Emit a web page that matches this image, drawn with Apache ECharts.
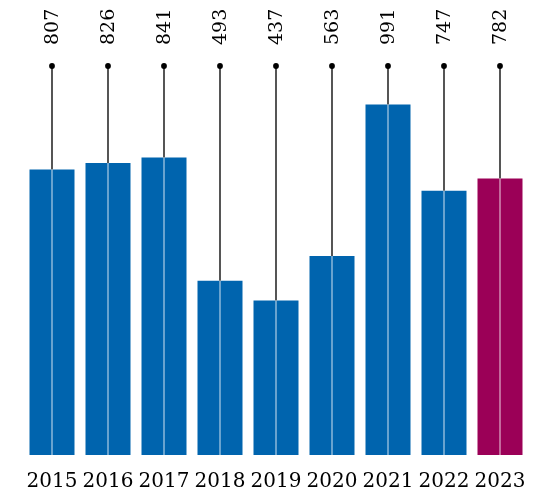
<!DOCTYPE html>
<html>
<head>
<meta charset="utf-8">
<style>
  html, body { margin: 0; padding: 0; background: #ffffff; }
  #chart { width: 533px; height: 495px; }
</style>
<script src="https://cdn.jsdelivr.net/npm/echarts@6/dist/echarts.min.js"></script>
</head>
<body>
<div id="chart"></div>
<script>
// Yearly totals
const years = ['2015', '2016', '2017', '2018', '2019', '2020', '2021', '2022', '2023'];
const values = [807, 826, 841, 493, 437, 563, 991, 747, 782];

const BLUE = '#0064ae';
const HIGHLIGHT = '#9b0057';
const Y_MAX = 1100;
const FONT = '"DejaVu Serif", serif';

const chart = echarts.init(document.getElementById('chart'), null, { renderer: 'canvas' });

chart.setOption({
  animation: false,
  grid: { left: 24, right: 5, top: 66, bottom: 40 },
  xAxis: {
    type: 'category',
    data: years,
    axisLine: { show: false },
    axisTick: { show: false },
    axisLabel: {
      interval: 0,
      color: '#000',
      fontFamily: FONT,
      fontSize: 20,
      margin: 17
    }
  },
  yAxis: {
    type: 'value',
    min: 0,
    max: Y_MAX,
    show: false,
    splitLine: { show: false }
  },
  series: [
    {
      type: 'bar',
      barWidth: 45,
      data: values.map((v, i) => ({
        value: v,
        itemStyle: { color: i === values.length - 1 ? HIGHLIGHT : BLUE }
      })),
      z: 2
    },
    {
      // stem from the label dot down through each bar, plus the rotated value label
      type: 'custom',
      z: 3,
      data: values.map((v, i) => [i, v]),
      renderItem: function (params, api) {
        const i = api.value(0);
        const v = api.value(1);
        const base = api.coord([i, 0]);
        const top = api.coord([i, v]);
        const dot = api.coord([i, Y_MAX]);
        const x = base[0];
        return {
          type: 'group',
          children: [
            {
              type: 'line',
              shape: { x1: x, y1: dot[1], x2: x, y2: top[1] },
              style: { stroke: '#4d4d4d', lineWidth: 1.9 }
            },
            {
              type: 'line',
              shape: { x1: x, y1: top[1], x2: x, y2: base[1] },
              style: { stroke: 'rgba(255,255,255,0.55)', lineWidth: 1.5 }
            },
            {
              type: 'circle',
              shape: { cx: x, cy: dot[1], r: 2.9 },
              style: { fill: '#000000' }
            },
            {
              type: 'text',
              x: x + 1,
              y: dot[1] - 21,
              rotation: Math.PI / 2,
              style: {
                text: String(v),
                fill: '#000000',
                font: '19px ' + FONT,
                align: 'left',
                verticalAlign: 'middle'
              }
            }
          ]
        };
      }
    }
  ]
});
</script>
</body>
</html>
